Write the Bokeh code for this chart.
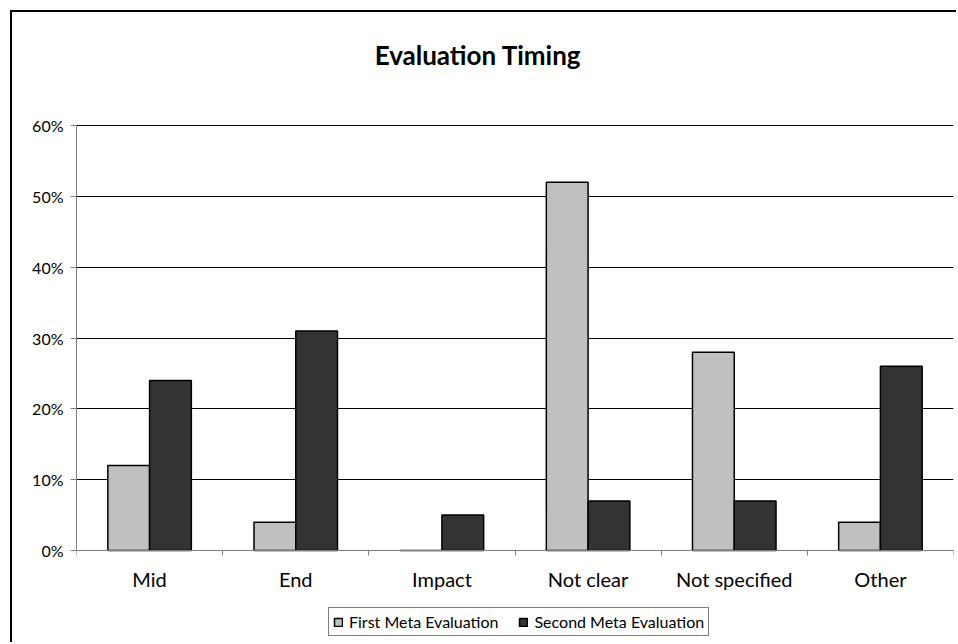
from bokeh.plotting import figure
from bokeh.models import ColumnDataSource, FixedTicker, PrintfTickFormatter, Legend, LegendItem, Range1d, Label
from bokeh.transform import dodge
from bokeh.embed import file_html
from bokeh.resources import INLINE
import numpy as np

categories = ["Mid", "End", "Impact", "Not clear", "Not specified", "Other"]
first_meta = [12, 4, 0, 52, 28, 4]
second_meta = [24, 31, 5, 7, 7, 26]
y_ticks = [0, 10, 20, 30, 40, 50, 60]
title_text = "Evaluation Timing"

FONT = "Lato"
n = len(categories)
centers = list(np.arange(n) + 0.5)
src = ColumnDataSource(dict(x=centers, first=first_meta, second=second_meta))

# frame spans the full canvas height; 0..60 occupies 425 px,
# 113 px of room above 60 for the title, 90 px below zero for labels + legend
PX_PER_UNIT = 425 / 60
Y_LOW = -90 / PX_PER_UNIT
Y_HIGH = 60 + 113 / PX_PER_UNIT

p = figure(frame_width=877, frame_height=628, output_backend="svg", toolbar_location=None,
           x_range=Range1d(0, n), y_range=Range1d(Y_LOW, Y_HIGH),
           min_border_left=64, min_border_top=0, min_border_right=3, min_border_bottom=2,
           margin=(10, 0, 0, 10),
           styles={"border-style": "solid none none solid", "border-width": "2px 0px 0px 2px",
                   "border-color": "black"})
p.outline_line_color = None
p.background_fill_color = "white"
p.border_fill_color = "white"

w = 1 / 3.5
r1 = p.vbar(x=dodge("x", -w / 2), top="first", width=w, source=src,
            fill_color="#C0C0C0", line_color="black", line_width=1.5)
r2 = p.vbar(x=dodge("x", w / 2), top="second", width=w, source=src,
            fill_color="#333333", line_color="black", line_width=1.5)

# title (drawn as a label above the 60% line)
title = Label(x=n / 2, y=y_ticks[-1], x_offset=-37, y_offset=71, text=title_text,
              text_align="center", text_baseline="alphabetic",
              text_font=FONT, text_font_size="26px", text_font_style="bold",
              text_color="black")
p.add_layout(title)

# y axis
p.yaxis.ticker = FixedTicker(ticks=y_ticks)
p.yaxis.bounds = (0, 60)
p.yaxis.formatter = PrintfTickFormatter(format="%d%%")
p.yaxis.axis_line_color = "#808080"
p.yaxis.major_tick_line_color = "#808080"
p.yaxis.major_tick_out = 6
p.yaxis.major_tick_in = 0
p.yaxis.minor_tick_line_color = None
p.yaxis.major_label_text_font = FONT
p.yaxis.major_label_text_font_size = "16px"
p.yaxis.major_label_text_color = "black"
p.yaxis.major_label_standoff = 7

# x axis, pinned at y = 0
p.xaxis.fixed_location = 0
p.xaxis.ticker = FixedTicker(ticks=centers, minor_ticks=list(range(n + 1)))
p.xaxis.major_label_overrides = {c: lab for c, lab in zip(centers, categories)}
p.xaxis.axis_line_color = "#808080"
p.xaxis.major_tick_line_color = None
p.xaxis.major_tick_out = 0
p.xaxis.major_tick_in = 0
p.xaxis.minor_tick_line_color = "#808080"
p.xaxis.minor_tick_out = 5
p.xaxis.minor_tick_in = 0
p.xaxis.major_label_text_font = FONT
p.xaxis.major_label_text_font_size = "20px"
p.xaxis.major_label_text_color = "black"
p.xaxis.major_label_standoff = 11

# grid
p.xgrid.grid_line_color = None
p.ygrid.ticker = FixedTicker(ticks=y_ticks)
p.ygrid.grid_line_color = "black"
p.ygrid.grid_line_width = 1

legend = Legend(items=[LegendItem(label="First Meta Evaluation", renderers=[r1]),
                       LegendItem(label="Second Meta Evaluation", renderers=[r2])],
                location=(252, 4), orientation="horizontal")
legend.border_line_color = "black"
legend.border_line_width = 1
legend.background_fill_color = "white"
legend.background_fill_alpha = 1
legend.label_text_font = FONT
legend.label_text_font_size = "16px"
legend.label_text_color = "black"
legend.glyph_width = 10
legend.glyph_height = 10
legend.label_height = 16
legend.label_standoff = 6
legend.spacing = 20
legend.padding = 4
legend.margin = 0
p.add_layout(legend, "center")

open("out.html", "w").write(file_html(p, INLINE))
